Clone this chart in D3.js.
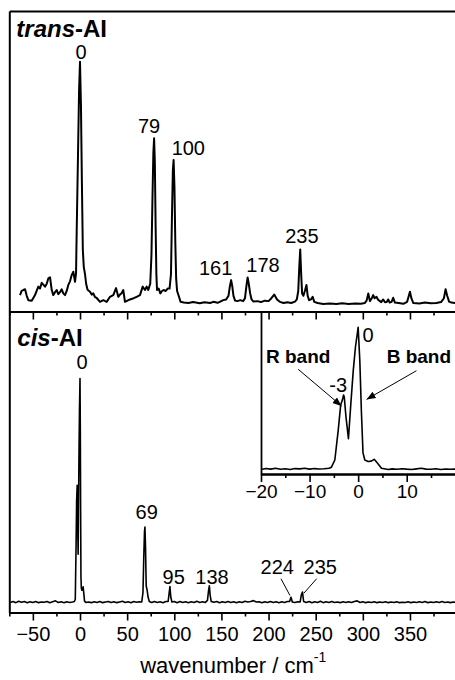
<!DOCTYPE html>
<html><head><meta charset="utf-8">
<script src="https://cdn.jsdelivr.net/npm/d3@7"></script>
<style>
html,body{margin:0;padding:0;background:#fff;}
svg{display:block;}
text{font-family:"Liberation Sans",Arial,Helvetica,sans-serif;fill:#000;}
</style></head>
<body><svg id="chart" width="455" height="680"></svg>
<script>
// ---------------- DATA ----------------
// trans-AI spectrum (wavenumber / cm-1, normalized intensity)
const transW = [-63.6,-62,-60.1,-58.3,-56.5,-54.8,-51.2,-47.7,-46,-44.2,-42.4,-40.6,-37.1,-35.3,-33.6,-31.8,-30,-28.3,-26.5,-24.7,-23,-21.2,-19.4,-17.7,-15.9,-14.1,-12.4,-10.6,-8.8,-7.1,-5.3,-4.2,-3.5,-2.1,-1,0,1,2,3,4,5.3,6.5,8,10.6,12.4,14.1,15.9,17.7,21.2,24.7,28.3,31.8,35.3,38.2,40.6,42.4,44.2,45.9,47.7,53,57,60.1,63.6,66.5,68.9,70.7,72.4,74.5,75.8,76.8,77.8,78.6,79.4,80.2,81,81.7,83.5,85.2,87,88.7,91,93,95,96.5,97.5,98.5,99.3,100.2,101.1,102,103,105,106.7,110,115,120,127,132,138,141.4,146,152,155,157.5,159,160.3,161.5,162.8,164.5,167,170,173,175,176.5,177.8,179,180.5,182,184,188,192,196,200,203,206,209,212,216,220,224,228,230,231.5,232.6,233.6,234.6,235.6,237,238.5,240.2,241.5,243,245,246.8,248.5,252,258,265,272,278,285,292,298,302,304,305.8,307.5,309.5,311,312.5,314.5,316,317.5,319.5,321.6,323.5,325.3,326.9,328.5,330.5,332.2,334,338,343,347,348.8,350,351.5,353.6,360,366,372,378,383,386,387.8,389.5,391.5,394,398];
const transI = [0.033,0.05,0.054,0.057,0.03,0.012,0.01,0.033,0.05,0.068,0.06,0.084,0.068,0.08,0.102,0.107,0.054,0.033,0.045,0.054,0.037,0.045,0.057,0.04,0.033,0.05,0.075,0.09,0.116,0.13,0.088,0.124,0.3,0.62,0.88,1.0,0.82,0.5,0.22,0.15,0.12,0.08,0.055,0.047,0.035,0.04,0.025,0.021,0.005,0.012,0.005,0.026,0.033,0.062,0.026,0.035,0.041,0.054,0.005,0.015,0.02,0.026,0.033,0.068,0.054,0.068,0.054,0.08,0.2,0.42,0.62,0.683,0.58,0.32,0.12,0.054,0.06,0.04,0.05,0.054,0.05,0.06,0.06,0.12,0.35,0.55,0.593,0.48,0.25,0.1,0.05,0.026,0.005,0.002,0,0.004,-0.001,0.003,0,0.005,0.001,0.012,0.015,0.03,0.07,0.095,0.07,0.03,0.01,0.008,0.012,0.008,0.02,0.07,0.106,0.08,0.04,0.015,0.006,0.008,0.004,0.01,0.008,0.02,0.035,0.015,0.005,0,0.003,0,0.006,0.015,0.05,0.15,0.222,0.12,0.04,0.03,0.05,0.075,0.03,0.012,0.015,0.026,0.005,0,-0.004,-0.002,-0.004,-0.001,-0.004,-0.002,-0.003,0,0.01,0.04,0.008,0.02,0.033,0.02,0.026,0.015,0.01,0.004,0.015,0.003,0.004,0.015,0.002,0.005,0.022,0.002,0,-0.003,0.005,0.03,0.047,0.02,0,-0.002,0.002,-0.001,0,0.004,0.02,0.057,0.03,0.006,0.002,0];

// cis-AI spectrum
const cisW = [-74,-71,-68,-65,-62,-59,-56,-53,-50,-47,-44,-41,-38,-35,-32,-29,-26,-23,-20,-17,-14,-11,-8,-6,-5,-4.1,-3.6,-3,-2.5,-2,-1.5,-1,-0.55,0,0.34,0.68,1,1.4,2,2.7,3.3,4,4.8,6.2,9,12,15,18,21,24,27,30,33,36,39,42,45,48,51,54,57,60,63,65.5,66.8,67.6,68.4,68.9,69.5,70.2,71.2,72.2,73.5,76,79,82,85,88,91,93.5,94.6,95.4,96.3,97.5,100,103,106,109,112,115,118,121,124,127,130,133,135.2,136.4,137.2,138,139.2,142,145,148,151,154,157,160,163,166,169,172,175,178,181,184,187,190,193,196,199,202,205,208,211,214,217,220,222.3,223.8,225.2,228,231,233.5,234.8,236,237.2,240,243,246,249,252,255,258,261,264,267,270,273,276,279,282,285,288,291,294,297,300,303,306,309,312,315,318,321,324,327,330,333,336,339,342,345,348,351,354,357,360,363,366,369,372,375,378,381,384,387,390,393,396,399];
const cisI = [0.006,0.01,0.005,0.011,0.007,0.01,0.005,0.009,0.006,0.01,0.005,0.008,0.007,0.01,0.005,0.009,0.013,0.006,0.009,0.005,0.009,0.006,0.008,0.01,0.02,0.28,0.455,0.526,0.37,0.22,0.467,0.7,0.864,1.0,0.77,0.4,0.12,0.07,0.06,0.062,0.075,0.047,0.012,0.006,0.008,0.005,0.009,0.006,0.01,0.005,0.008,0.01,0.006,0.009,0.005,0.008,0.011,0.006,0.009,0.005,0.01,0.007,0.009,0.008,0.05,0.2,0.32,0.34,0.25,0.08,0.06,0.03,0.01,0.006,0.01,0.006,0.009,0.005,0.01,0.01,0.05,0.076,0.03,0.008,0.01,0.005,0.01,0.006,0.009,0.005,0.009,0.006,0.011,0.006,0.009,0.006,0.015,0.06,0.08,0.04,0.01,0.007,0.01,0.005,0.009,0.006,0.01,0.006,0.009,0.005,0.009,0.006,0.011,0.008,0.01,0.014,0.008,0.009,0.005,0.009,0.006,0.01,0.006,0.009,0.005,0.009,0.006,0.01,0.01,0.029,0.008,0.006,0.009,0.008,0.04,0.052,0.01,0.006,0.01,0.005,0.009,0.006,0.011,0.005,0.009,0.006,0.01,0.006,0.008,0.005,0.009,0.006,0.009,0.006,0.01,0.013,0.006,0.009,0.005,0.008,0.006,0.009,0.005,0.008,0.006,0.009,0.005,0.008,0.006,0.009,0.005,0.007,0.006,0.009,0.005,0.008,0.006,0.009,0.006,0.01,0.005,0.008,0.006,0.009,0.006,0.01,0.006,0.008,0.005,0.008,0.006];

// inset: cis-AI origin band, high resolution
const insetW = [-20,-19,-18,-17,-16,-15,-14,-13,-12,-11,-10,-9,-8,-7,-6,-5.5,-4.8,-4.1,-3.6,-3.25,-3,-2.85,-2.5,-2,-1.5,-1,-0.55,0,0.34,0.68,1,1.37,2.05,2.7,3.3,4,4.8,6.2,7,8,9,10,11,12,13,14,15,16,17,18,19,20];
const insetI = [0.004,0.01,0.006,0.012,0.005,0.009,0.004,0.01,0.008,0.012,0.006,0.01,0.007,0.009,0.012,0.02,0.07,0.28,0.455,0.49,0.526,0.51,0.37,0.22,0.467,0.7,0.864,1.0,0.77,0.4,0.12,0.07,0.06,0.062,0.075,0.047,0.012,0.004,0.008,0.005,0.009,0.006,0.004,0.008,0.012,0.006,0.005,0.009,0.004,0.007,0.005,0.006];

// peak labels: text, label x (cm-1), label baseline (intensity)
const transLabels = ["0","79","100","161","178","235"];
const transLabelW = [1.1,73.2,114.9,143.9,194.1,235.4];
const transLabelI = [1.01,0.706,0.613,0.116,0.127,0.25];
const cisLabels = ["0","69","95","138","224","235"];
const cisLabelW = [2.1,70.7,99.4,140,209.2,254.9];
const cisLabelI = [1.044,0.378,0.086,0.086,0.133,0.133];
// leader lines for 224 and 235 (from [w,I] to [w,I])
const cisLeaders = [[[213.2,0.111],[222.7,0.037]],[[251.0,0.111],[237.5,0.047]]];

// inset annotations
const insetLabels = ["0","-3"];
const insetLabelW = [2.06,-4.1];
const insetLabelI = [0.9,0.547];
const bandLabels = ["R band","B band"];
const bandLabelW = [-12.35,12.5];
const bandLabelI = [0.748,0.748];
const bandArrows = [[[-12.35,0.706],[-3.42,0.449]],[[12.0,0.696],[1.73,0.495]]];

// ticks
const majorTicks = [-50,0,50,100,150,200,250,300,350];
const minorTicks = [-75,-25,25,75,125,175,225,275,325,375];
const insetMajor = [-20,-10,0,10];
const insetMinor = [-15,-5,5,15];

// ---------------- LAYOUT ----------------
const svg = d3.select("#chart");
const L = 9.3, R = 457.1;
const topY0 = 11, midY = 311.5, botY = 612.5;
const x = d3.scaleLinear().domain([-75,400]).range([L,R]);
const yT = d3.scaleLinear().domain([-0.035,1.21]).range([midY,topY0]);
const yC = d3.scaleLinear().domain([-0.0387,1.297]).range([botY,midY]);
const insL = 261, insB = 474;
const xi = d3.scaleLinear().domain([-20,20]).range([insL,455.3]);
const yi = d3.scaleLinear().domain([-0.028,1.111]).range([insB,midY]);

const font = '"Liberation Sans",Arial,Helvetica,sans-serif';

svg.append("defs").html(`
 <clipPath id="cT"><rect x="${L}" y="${topY0}" width="${R-L}" height="${midY-topY0}"/></clipPath>
 <clipPath id="cC"><rect x="${L}" y="${midY}" width="${R-L}" height="${botY-midY}"/></clipPath>
 <marker id="ah" viewBox="0 0 10 10" refX="10" refY="5" markerWidth="9" markerHeight="9" markerUnits="userSpaceOnUse" orient="auto">
   <path d="M0,1 L10,5 L0,9 z" fill="#000"/></marker>`);

// spectra
const lineT = d3.line().x((d,i)=>x(transW[i])).y((d,i)=>yT(transI[i]));
svg.append("path").attr("clip-path","url(#cT)").attr("d", lineT(transW))
  .attr("fill","none").attr("stroke","#000").attr("stroke-width",2).attr("stroke-linejoin","round");
const lineC = d3.line().x((d,i)=>x(cisW[i])).y((d,i)=>yC(cisI[i]));
svg.append("path").attr("clip-path","url(#cC)").attr("d", lineC(cisW))
  .attr("fill","none").attr("stroke","#000").attr("stroke-width",1.6).attr("stroke-linejoin","round");
const lineI = d3.line().x((d,i)=>xi(insetW[i])).y((d,i)=>yi(insetI[i]));
svg.append("path").attr("d", lineI(insetW))
  .attr("fill","none").attr("stroke","#000").attr("stroke-width",1.6).attr("stroke-linejoin","round");

// axes helper
function styleAxis(g, width){
  g.selectAll(".domain").attr("stroke","#000").attr("stroke-width",width);
  g.selectAll(".tick line").attr("stroke","#000").attr("stroke-width",1.6);
}
// panel frames
const gTop = svg.append("g").attr("transform",`translate(0,${topY0})`).call(d3.axisTop(x).tickValues([]).tickSizeOuter(0));
styleAxis(gTop,2);
const gLeftT = svg.append("g").attr("transform",`translate(${L},0)`).call(d3.axisLeft(yT).tickValues([]).tickSizeOuter(0));
styleAxis(gLeftT,2);
const gLeftC = svg.append("g").attr("transform",`translate(${L},0)`).call(d3.axisLeft(yC).tickValues([]).tickSizeOuter(0));
styleAxis(gLeftC,2);

function bottomAxes(yPos, labels){
  const gMin = svg.append("g").attr("transform",`translate(0,${yPos})`)
    .call(d3.axisBottom(x).tickValues(minorTicks).tickSize(4).tickFormat("").tickSizeOuter(0));
  styleAxis(gMin,2);
  const gMaj = svg.append("g").attr("transform",`translate(0,${yPos})`)
    .call(d3.axisBottom(x).tickValues(majorTicks).tickSize(8).tickSizeOuter(0)
      .tickFormat(labels ? d3.format("d") : ""));
  styleAxis(gMaj,2);
  gMaj.selectAll(".tick text").attr("font-family",font).attr("font-size",20).attr("fill","#000")
     .attr("y",14).attr("dy","0.71em");
  return gMaj;
}
bottomAxes(midY,false);
bottomAxes(botY,true);

// inset axes
const giMin = svg.append("g").attr("transform",`translate(0,${insB})`)
  .call(d3.axisBottom(xi).tickValues(insetMinor).tickSize(4).tickFormat("").tickSizeOuter(0));
styleAxis(giMin,1.8);
const giMaj = svg.append("g").attr("transform",`translate(0,${insB})`)
  .call(d3.axisBottom(xi).tickValues(insetMajor).tickSize(8).tickSizeOuter(0).tickFormat(d3.format("d")));
styleAxis(giMaj,1.8);
giMaj.selectAll(".tick text").attr("font-family",font).attr("font-size",19).attr("fill","#000")
  .attr("y",11).attr("dy","0.71em");
const giL = svg.append("g").attr("transform",`translate(${insL},0)`)
  .call(d3.axisLeft(yi).tickValues([]).tickSizeOuter(0));
styleAxis(giL,1.8);

// peak labels
svg.append("g").selectAll("text").data(transLabels).join("text")
  .attr("x",(d,i)=>x(transLabelW[i])).attr("y",(d,i)=>yT(transLabelI[i]))
  .attr("text-anchor","middle").attr("font-size",20).text(d=>d);
svg.append("g").selectAll("text").data(cisLabels).join("text")
  .attr("x",(d,i)=>x(cisLabelW[i])).attr("y",(d,i)=>yC(cisLabelI[i]))
  .attr("text-anchor","middle").attr("font-size",20).text(d=>d);
svg.append("g").selectAll("line").data(cisLeaders).join("line")
  .attr("x1",d=>x(d[0][0])).attr("y1",d=>yC(d[0][1]))
  .attr("x2",d=>x(d[1][0])).attr("y2",d=>yC(d[1][1]))
  .attr("stroke","#000").attr("stroke-width",1);

// inset labels
svg.append("g").selectAll("text").data(insetLabels).join("text")
  .attr("x",(d,i)=>xi(insetLabelW[i])).attr("y",(d,i)=>yi(insetLabelI[i]))
  .attr("text-anchor","middle").attr("font-size",20).text(d=>d);
svg.append("g").selectAll("text").data(bandLabels).join("text")
  .attr("x",(d,i)=>xi(bandLabelW[i])).attr("y",(d,i)=>yi(bandLabelI[i]))
  .attr("text-anchor","middle").attr("font-size",19).attr("font-weight","bold").text(d=>d);
svg.append("g").selectAll("line").data(bandArrows).join("line")
  .attr("x1",d=>xi(d[0][0])).attr("y1",d=>yi(d[0][1]))
  .attr("x2",d=>xi(d[1][0])).attr("y2",d=>yi(d[1][1]))
  .attr("stroke","#000").attr("stroke-width",1).attr("marker-end","url(#ah)");

// panel titles
const t1 = svg.append("text").attr("x",L+7).attr("y",topY0+26).attr("font-size",24).attr("font-weight","bold");
t1.append("tspan").attr("font-style","italic").text("trans");
t1.append("tspan").text("-AI");
const t2 = svg.append("text").attr("x",L+8).attr("y",midY+34).attr("font-size",24).attr("font-weight","bold");
t2.append("tspan").attr("font-style","italic").text("cis");
t2.append("tspan").text("-AI");

// x-axis title
const xt = svg.append("text").attr("x",(x(-75)+x(400))/2).attr("y",673).attr("text-anchor","middle").attr("font-size",22);
xt.append("tspan").text("wavenumber / cm");
xt.append("tspan").attr("font-size",14).attr("dy",-11).text("-1");
</script></body></html>
